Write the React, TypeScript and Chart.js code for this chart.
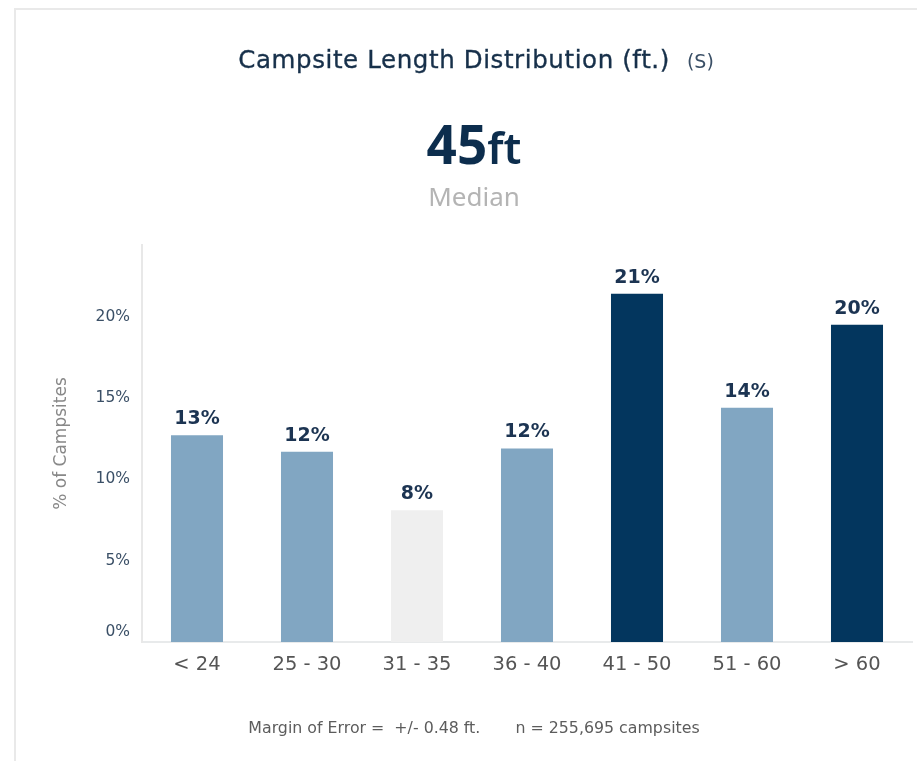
import React, { useEffect, useRef } from "react";
import { Chart, registerables } from "chart.js";

Chart.register(...registerables);

const categories = ["< 24", "25 - 30", "31 - 35", "36 - 40", "41 - 50", "51 - 60", "> 60"];
const percentValues = [12.7, 11.7, 8.1, 11.9, 21.4, 14.4, 19.5];
const barColors = ["#81a6c2", "#81a6c2", "#efefef", "#81a6c2", "#03365e", "#81a6c2", "#03365e"];
const yTickValues = [0, 5, 10, 15, 20];

const FONT = "'DejaVu Sans', 'Noto Sans', sans-serif";
const BIG_FONT = "'Noto Sans', 'Open Sans', sans-serif";

const valueLabelPlugin = {
  id: "valueLabels",
  afterDatasetsDraw(chart: any) {
    const { ctx } = chart;
    const meta = chart.getDatasetMeta(0);
    ctx.save();
    ctx.font = `bold 19px ${FONT}`;
    ctx.fillStyle = "#1c3452";
    ctx.textAlign = "center";
    ctx.textBaseline = "alphabetic";
    meta.data.forEach((bar: any, i: number) => {
      const v = percentValues[i];
      ctx.fillText(`${Math.round(v)}%`, bar.x, bar.y - 11);
    });
    ctx.restore();
  },
  afterDraw(chart: any) {
    const { ctx } = chart;
    const y = chart.scales.y;
    ctx.save();
    ctx.font = `15.5px ${FONT}`;
    ctx.fillStyle = "#3a4f66";
    ctx.textAlign = "right";
    ctx.textBaseline = "middle";
    ctx.fillText("0%", y.right - 12, y.getPixelForValue(0) - 10);
    ctx.restore();
  },
};

export default function App() {
  const canvasRef = useRef<HTMLCanvasElement | null>(null);

  useEffect(() => {
    if (!canvasRef.current) return;
    const chart = new Chart(canvasRef.current, {
      type: "bar",
      data: {
        labels: categories,
        datasets: [
          {
            data: percentValues,
            backgroundColor: barColors,
            borderWidth: 0,
            categoryPercentage: 1,
            barPercentage: 0.473,
          },
        ],
      },
      options: {
        animation: false,
        responsive: false,
        maintainAspectRatio: false,
        layout: { padding: { top: 245, right: 5, left: 0, bottom: 0 } },
        plugins: {
          legend: { display: false },
          tooltip: { enabled: false },
        },
        scales: {
          x: {
            grid: { display: false, drawTicks: false },
            border: { display: true, color: "#e8eaeb", width: 2 },
            ticks: {
              color: "#555555",
              font: { family: FONT, size: 19.5 },
              padding: 11,
              maxRotation: 0,
            },
            afterFit(scale: any) {
              scale.height = 119;
            },
          },
          y: {
            min: 0,
            max: 24.4,
            grid: { display: false, drawTicks: false },
            border: { display: true, color: "#e8e8e8", width: 2 },
            afterBuildTicks(scale: any) {
              scale.ticks = yTickValues.map((v) => ({ value: v }));
            },
            ticks: {
              color: "#3a4f66",
              font: { family: FONT, size: 15.5 },
              padding: 12,
              callback: (v: any) => (Number(v) === 0 ? "" : `${v}%`),
            },
            title: {
              display: true,
              text: "% of Campsites",
              color: "#888888",
              font: { family: FONT, size: 17 },
              padding: { top: 51, bottom: 0 },
            },
            afterFit(scale: any) {
              scale.width = 142;
            },
          },
        },
      },
      plugins: [valueLabelPlugin],
    });
    return () => chart.destroy();
  }, []);

  return (
    <div
      style={{
        position: "absolute",
        left: 0,
        top: 0,
        width: 917,
        height: 761,
        overflow: "hidden",
        background: "#ffffff",
        fontFamily: FONT,
      }}
    >
      <div
        style={{
          position: "absolute",
          left: 14,
          top: 8,
          width: 910,
          height: 760,
          borderTop: "2px solid #e9e9e9",
          borderLeft: "2px solid #e9e9e9",
          boxSizing: "border-box",
        }}
      />
      <canvas
        ref={canvasRef}
        width={917}
        height={761}
        style={{ position: "absolute", left: 0, top: 0, width: 917, height: 761 }}
      />
      <div
        style={{
          position: "absolute",
          left: 476,
          top: 45,
          transform: "translateX(-50%)",
          whiteSpace: "nowrap",
          lineHeight: "30px",
          color: "#17304a",
        }}
      >
        <span style={{ fontSize: 24.5, letterSpacing: 0.6, WebkitTextStroke: "0.35px #17304a" }}>
          Campsite Length Distribution (ft.)
        </span>
        <span style={{ fontSize: 19, color: "#3a4f66", marginLeft: 17 }}>(S)</span>
      </div>
      <div
        style={{
          position: "absolute",
          left: 474,
          top: 114,
          transform: "translateX(-50%)",
          whiteSpace: "nowrap",
          lineHeight: "60px",
          color: "#0c2d4d",
          fontFamily: BIG_FONT,
        }}
      >
        <span style={{ fontSize: 53, fontWeight: 700 }}>45</span>
        <span style={{ fontSize: 44, fontWeight: 600 }}>ft</span>
      </div>
      <div
        style={{
          position: "absolute",
          left: 474,
          top: 180,
          transform: "translateX(-50%)",
          whiteSpace: "nowrap",
          lineHeight: "32px",
          fontSize: 26,
          color: "#b4b4b4",
          fontFamily: BIG_FONT,
        }}
      >
        Median
      </div>
      <div
        style={{
          position: "absolute",
          left: 474,
          top: 718,
          transform: "translateX(-50%)",
          whiteSpace: "pre",
          lineHeight: "20px",
          fontSize: 15.8,
          color: "#5c5c5c",
        }}
      >
        {"Margin of Error =  +/- 0.48 ft.       n = 255,695 campsites"}
      </div>
    </div>
  );
}
